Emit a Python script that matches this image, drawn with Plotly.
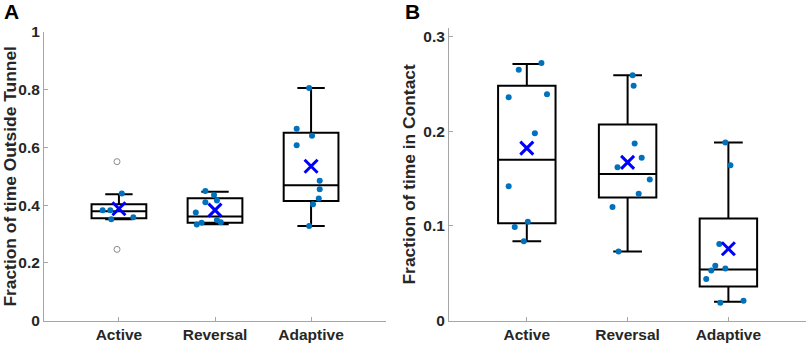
import numpy as np
import plotly.graph_objects as go

# ---------------- data ----------------
categories = ["Active", "Reversal", "Adaptive"]

# Panel A: Fraction of time Outside Tunnel
a_active = [0.441, 0.383, 0.383, 0.351, 0.358]
a_active_outliers = [0.551, 0.247]
a_reversal = [0.449, 0.435, 0.410, 0.416, 0.375, 0.339, 0.333, 0.349, 0.341]
a_adaptive = [0.806, 0.665, 0.641, 0.608, 0.485, 0.455, 0.423, 0.403, 0.328]

a_q1 = [0.355, 0.339, 0.415]
a_median = [0.379, 0.361, 0.469]
a_q3 = [0.403, 0.424, 0.651]
a_lower = [0.351, 0.334, 0.328]
a_upper = [0.438, 0.447, 0.806]

# Panel B: Fraction of time in Contact
b_active = [0.272, 0.265, 0.236, 0.239, 0.198, 0.142, 0.1045, 0.099, 0.084]
b_reversal = [0.259, 0.248, 0.187, 0.172, 0.162, 0.149, 0.134, 0.120, 0.073]
b_adaptive = [0.188, 0.164, 0.081, 0.058, 0.053, 0.055, 0.044, 0.019, 0.021]

b_q1 = [0.103, 0.130, 0.036]
b_median = [0.170, 0.155, 0.054]
b_q3 = [0.248, 0.207, 0.108]
b_lower = [0.084, 0.073, 0.020]
b_upper = [0.271, 0.259, 0.188]

a_yticks = [0, 0.2, 0.4, 0.6, 0.8, 1]
a_yticktext = ["0", "0.2", "0.4", "0.6", "0.8", "1"]
b_yticks = [0, 0.1, 0.2, 0.3]
b_yticktext = ["0", "0.1", "0.2", "0.3"]

# ---------------- styling (jitter offsets) ----------------
a_jit = [
    [0.03, -0.17, -0.09, -0.08, 0.15],
    [-0.10, -0.01, -0.10, 0.02, -0.20, -0.14, -0.19, 0.02, 0.06],
    [-0.02, -0.15, 0.01, -0.15, 0.09, 0.09, 0.08, 0.02, -0.02],
]
a_out_jit = [-0.02, -0.02]
b_jit = [
    [0.145, -0.08, -0.18, 0.20, 0.08, -0.18, 0.01, -0.12, -0.03],
    [0.05, 0.06, 0.07, 0.14, -0.10, 0.22, 0.11, -0.15, -0.09],
    [-0.03, 0.02, -0.09, -0.13, -0.17, -0.03, -0.22, -0.08, 0.15],
]

FONT = "Liberation Sans"
DOT = "#0072BD"
MEANC = "#0000FF"
AXC = "#a6a6a6"
TXT = "#262626"

fig = go.Figure()

positions = [1, 2, 3]


def add_panel(xa, ya, q1, med, q3, lo, hi, groups, jits, outliers=None, out_jit=None):
    for i, p in enumerate(positions):
        fig.add_trace(go.Box(
            x=[p], q1=[q1[i]], median=[med[i]], q3=[q3[i]],
            lowerfence=[lo[i]], upperfence=[hi[i]],
            width=0.57, whiskerwidth=0.5, boxpoints=False,
            line=dict(color="black", width=2), fillcolor="rgba(0,0,0,0)",
            xaxis=xa, yaxis=ya, showlegend=False, hoverinfo="skip"))
    means = []
    for i, p in enumerate(positions):
        vals = list(groups[i])
        if outliers is not None and i == 0:
            vals = vals + list(outliers)
        means.append(float(np.mean(vals)))
        fig.add_trace(go.Scatter(
            x=[p + j for j in jits[i]], y=groups[i], mode="markers",
            marker=dict(color=DOT, size=6, line=dict(width=0)),
            xaxis=xa, yaxis=ya, showlegend=False))
    if outliers is not None:
        fig.add_trace(go.Scatter(
            x=[positions[0] + j for j in out_jit], y=outliers, mode="markers",
            marker=dict(symbol="circle-open", color="#8c8c8c", size=6, line=dict(width=1)),
            xaxis=xa, yaxis=ya, showlegend=False))
    fig.add_trace(go.Scatter(
        x=positions, y=means, mode="markers",
        marker=dict(symbol="x-thin", size=13, line=dict(color=MEANC, width=3), color=MEANC),
        xaxis=xa, yaxis=ya, showlegend=False))


add_panel("x", "y", a_q1, a_median, a_q3, a_lower, a_upper,
          [a_active, a_reversal, a_adaptive], a_jit, a_active_outliers, a_out_jit)
add_panel("x2", "y2", b_q1, b_median, b_q3, b_lower, b_upper,
          [b_active, b_reversal, b_adaptive], b_jit)

W, H = 809, 347
y_bottom = (H - 320.7) / H

common_x = dict(tickvals=positions, ticktext=categories, showline=True, linecolor=AXC,
                linewidth=1, ticks="inside", ticklen=4, tickcolor=AXC, showgrid=False,
                zeroline=False, automargin=False,
                tickfont=dict(family=FONT, size=15.5, color=TXT, weight="bold"))
common_y = dict(showline=True, linecolor=AXC, linewidth=1, ticks="inside", ticklen=4,
                tickcolor=AXC, showgrid=False, zeroline=False, automargin=False,
                tickfont=dict(family=FONT, size=15.5, color=TXT, weight="bold"))

fig.update_layout(
    width=W, height=H, margin=dict(l=0, r=0, t=0, b=0, autoexpand=False),
    plot_bgcolor="white", paper_bgcolor="white",
    xaxis=dict(domain=[44 / W, 386 / W], range=[0.22, 3.78], anchor="y", **common_x),
    yaxis=dict(domain=[y_bottom, (H - 32) / H], range=[0, 1], anchor="x",
               tickvals=a_yticks, ticktext=a_yticktext,
               title=dict(text="Fraction of time Outside Tunnel", standoff=3,
                          font=dict(family=FONT, size=17.4, color=TXT, weight="bold")),
               **common_y),
    xaxis2=dict(domain=[449 / W, 806 / W], range=[0.228, 3.77], anchor="y2", **common_x),
    yaxis2=dict(domain=[y_bottom, (H - 28) / H], range=[0, 0.309], anchor="x2",
                tickvals=b_yticks, ticktext=b_yticktext,
                title=dict(text="Fraction of time in Contact", standoff=3,
                           font=dict(family=FONT, size=17.4, color=TXT, weight="bold")),
                **common_y),
    annotations=[
        dict(text="A", x=2 / W, y=1, xref="paper", yref="paper", xanchor="left",
             yanchor="top", showarrow=False, yshift=2,
             font=dict(family=FONT, size=21, color="black", weight="bold")),
        dict(text="B", x=403 / W, y=1, xref="paper", yref="paper", xanchor="left",
             yanchor="top", showarrow=False, yshift=2,
             font=dict(family=FONT, size=21, color="black", weight="bold")),
    ],
)

fig.write_html("out.html", config={"displayModeBar": False},
               post_script="document.body.style.margin='0';document.body.style.overflow='hidden';")
